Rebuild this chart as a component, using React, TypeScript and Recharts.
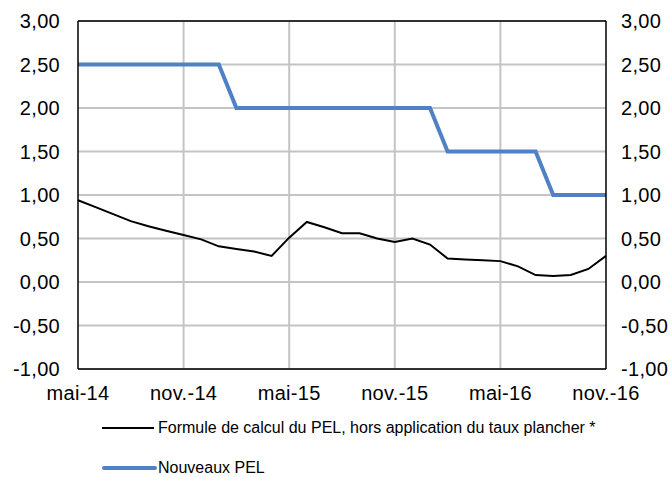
import React from 'react';
import { LineChart, Line, XAxis, YAxis, CartesianGrid, ReferenceLine, Legend } from 'recharts';

const months: string[] = [
  'mai-14', 'juin-14', 'juil.-14', 'août-14', 'sept.-14', 'oct.-14', 'nov.-14', 'déc.-14',
  'janv.-15', 'févr.-15', 'mars-15', 'avr.-15', 'mai-15', 'juin-15', 'juil.-15', 'août-15',
  'sept.-15', 'oct.-15', 'nov.-15', 'déc.-15', 'janv.-16', 'févr.-16', 'mars-16', 'avr.-16',
  'mai-16', 'juin-16', 'juil.-16', 'août-16', 'sept.-16', 'oct.-16', 'nov.-16',
];

const formule: number[] = [
  0.94, 0.86, 0.78, 0.70, 0.64, 0.59, 0.54, 0.49,
  0.41, 0.38, 0.35, 0.30, 0.51, 0.69, 0.63, 0.56,
  0.56, 0.50, 0.46, 0.50, 0.43, 0.27, 0.26, 0.25,
  0.24, 0.18, 0.08, 0.07, 0.08, 0.15, 0.30,
];

const nouveaux: number[] = [
  2.5, 2.5, 2.5, 2.5, 2.5, 2.5, 2.5, 2.5,
  2.5, 2.0, 2.0, 2.0, 2.0, 2.0, 2.0, 2.0,
  2.0, 2.0, 2.0, 2.0, 2.0, 1.5, 1.5, 1.5,
  1.5, 1.5, 1.5, 1.0, 1.0, 1.0, 1.0,
];

const yTicks: number[] = [-1, -0.5, 0, 0.5, 1, 1.5, 2, 2.5, 3];
const verticalGrid: string[] = ['nov.-14', 'mai-15', 'nov.-15', 'mai-16'];

const seriesNames = {
  formule: 'Formule de calcul du PEL, hors application du taux plancher *',
  nouveaux: 'Nouveaux PEL',
};

const data = months.map((m, i) => ({ month: m, formule: formule[i], nouveaux: nouveaux[i] }));

const FONT = '"Liberation Sans", Arial, sans-serif';
const BLUE = '#4f81c4';
const GRID = '#c4c4c4';

const fmt = (v: number) => v.toFixed(2).replace('.', ',');

const tickStyle = { fill: '#000', fontSize: 20, fontFamily: FONT, letterSpacing: 0.3 };

const LegendContent = () => (
  <div style={{ fontFamily: FONT, fontSize: 16, color: '#000' }}>
    <div style={{ display: 'flex', alignItems: 'center', height: 20 }}>
      <svg width={56} height={20} style={{ display: 'block' }}>
        <line x1={0} y1={10} x2={52} y2={10} stroke="#000" strokeWidth={2} />
      </svg>
      <span>{seriesNames.formule}</span>
    </div>
    <div style={{ display: 'flex', alignItems: 'center', height: 20, marginTop: 20 }}>
      <svg width={56} height={20} style={{ display: 'block' }}>
        <line x1={2} y1={10} x2={53} y2={10} stroke={BLUE} strokeWidth={4} strokeLinecap="round" />
      </svg>
      <span>{seriesNames.nouveaux}</span>
    </div>
  </div>
);

export default function App() {
  return (
    <div style={{ width: 672, height: 477 }}>
      <style>{'html{overflow:hidden} body{margin:0}'}</style>
      <LineChart
        width={672}
        height={477}
        data={data}
        margin={{ top: 21, right: 0, left: 18, bottom: 78 }}
      >
        <CartesianGrid yAxisId="left" vertical={false} stroke={GRID} strokeWidth={2} />
        {verticalGrid.map((m) => (
          <ReferenceLine key={m} x={m} yAxisId="left" stroke={GRID} strokeWidth={2} />
        ))}
        <ReferenceLine y={3} yAxisId="left" stroke="#000" strokeWidth={1.5} />
        <XAxis
          dataKey="month"
          interval={5}
          axisLine={{ stroke: '#000', strokeWidth: 1.5 }}
          tickLine={false}
          tickSize={0}
          tickMargin={17}
          height={30}
          tick={tickStyle}
        />
        <YAxis
          yAxisId="left"
          orientation="left"
          domain={[-1, 3]}
          ticks={yTicks}
          tickFormatter={fmt}
          width={60}
          axisLine={{ stroke: '#000', strokeWidth: 1.5 }}
          tickLine={false}
          tickSize={0}
          tickMargin={18}
          tick={tickStyle}
          allowDataOverflow
        />
        <YAxis
          yAxisId="right"
          orientation="right"
          domain={[-1, 3]}
          ticks={yTicks}
          tickFormatter={fmt}
          width={66}
          axisLine={{ stroke: '#000', strokeWidth: 1.5 }}
          tickLine={false}
          tickSize={0}
          tickMargin={15}
          tick={tickStyle}
          allowDataOverflow
        />
        <Line
          yAxisId="left"
          type="linear"
          dataKey="formule"
          name={seriesNames.formule}
          stroke="#000"
          strokeWidth={2}
          dot={false}
          isAnimationActive={false}
        />
        <Line
          yAxisId="left"
          type="linear"
          dataKey="nouveaux"
          name={seriesNames.nouveaux}
          stroke={BLUE}
          strokeWidth={4}
          dot={false}
          isAnimationActive={false}
        />
        <Legend
          verticalAlign="middle"
          layout="horizontal"
          content={LegendContent}
          wrapperStyle={{ top: 418, left: 102, width: 'auto' }}
        />
      </LineChart>
    </div>
  );
}
